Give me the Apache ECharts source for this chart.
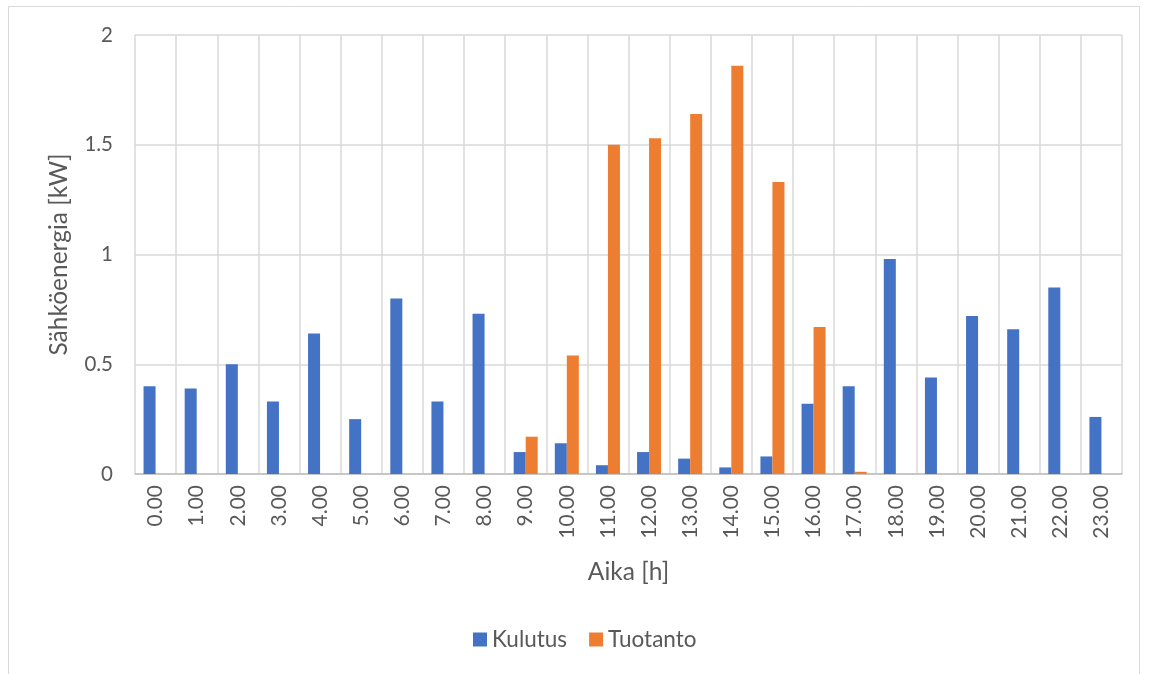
<!DOCTYPE html>
<html>
<head>
<meta charset="utf-8">
<script src="https://cdn.jsdelivr.net/npm/echarts@6/dist/echarts.min.js"></script>
<style>
  html, body { margin: 0; padding: 0; background: #ffffff; }
  #chart { width: 1151px; height: 674px; }
</style>
</head>
<body>
<div id="chart"></div>
<script>
// Hourly electricity: consumption vs. production
const hours = ['0.00','1.00','2.00','3.00','4.00','5.00','6.00','7.00','8.00','9.00','10.00','11.00',
               '12.00','13.00','14.00','15.00','16.00','17.00','18.00','19.00','20.00','21.00','22.00','23.00'];
const kulutus = [0.40,0.39,0.50,0.33,0.64,0.25,0.80,0.33,0.73,0.10,0.14,0.04,
                 0.10,0.07,0.03,0.08,0.32,0.40,0.98,0.44,0.72,0.66,0.85,0.26];
const tuotanto = [0,0,0,0,0,0,0,0,0,0.17,0.54,1.50,
                  1.53,1.64,1.86,1.33,0.67,0.01,0,0,0,0,0,0];
const yTicks = { min: 0, max: 2, step: 0.5 };

const FONT = 'Lato, "Open Sans", "Noto Sans", sans-serif';
const TEXT = '#595959';

const chart = echarts.init(document.getElementById('chart'), null, { renderer: 'canvas' });
chart.setOption({
  backgroundColor: '#ffffff',
  animation: false,
  textStyle: { fontFamily: FONT, color: TEXT },
  graphic: [{
    type: 'rect',
    shape: { x: 8.5, y: 6.5, width: 1131, height: 680 },
    style: { fill: 'none', stroke: '#d9d9d9', lineWidth: 1 },
    silent: true
  }],
  grid: { left: 135, right: 29, top: 35, bottom: 200, containLabel: false },
  legend: {
    bottom: 18,
    left: 468,
    itemWidth: 14,
    itemHeight: 14,
    itemGap: 22,
    icon: 'rect',
    textStyle: { fontFamily: FONT, fontSize: 22.5, color: TEXT },
    data: ['Kulutus', 'Tuotanto']
  },
  xAxis: {
    type: 'category',
    data: hours,
    name: 'Aika [h]',
    nameLocation: 'middle',
    nameGap: 86,
    nameTextStyle: { fontFamily: FONT, fontSize: 24.5, color: TEXT },
    axisLine: { show: true, lineStyle: { color: '#bfbfbf', width: 1.5 } },
    axisTick: { show: false },
    axisLabel: { rotate: 90, margin: 11, fontFamily: FONT, fontSize: 21, color: TEXT, interval: 0 },
    splitLine: { show: true, interval: 0, lineStyle: { color: '#d9d9d9', width: 1.5 } }
  },
  yAxis: {
    type: 'value',
    min: yTicks.min,
    max: yTicks.max,
    interval: yTicks.step,
    name: 'Sähköenergia [kW]',
    nameLocation: 'middle',
    nameGap: 63,
    nameTextStyle: { fontFamily: FONT, fontSize: 24.5, color: TEXT },
    axisLine: { show: false },
    axisTick: { show: false },
    axisLabel: { margin: 22, fontFamily: FONT, fontSize: 20.5, color: TEXT },
    splitLine: { show: true, lineStyle: { color: '#d9d9d9', width: 1.5 } }
  },
  series: [
    {
      name: 'Kulutus',
      type: 'bar',
      data: kulutus,
      barGap: '0%',
      barCategoryGap: '41.6%',
      itemStyle: { color: '#4472c4' }
    },
    {
      name: 'Tuotanto',
      type: 'bar',
      data: tuotanto,
      barGap: '0%',
      barCategoryGap: '41.6%',
      itemStyle: { color: '#ed7d31' }
    }
  ]
});
</script>
</body>
</html>
